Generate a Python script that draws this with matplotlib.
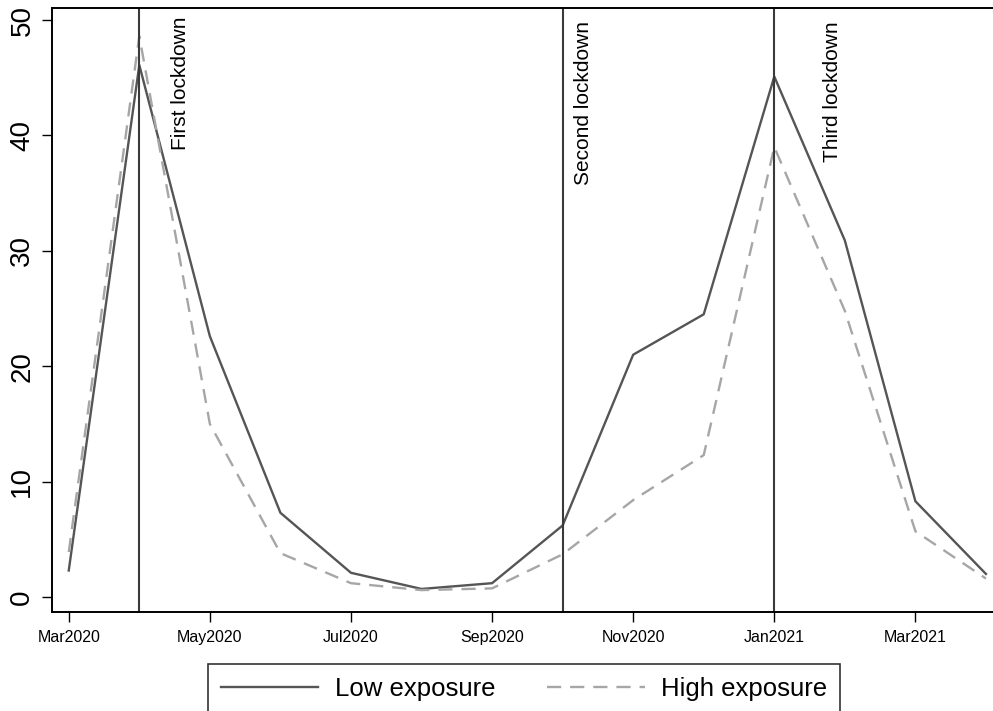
import numpy as np
import matplotlib.pyplot as plt

plt.rcParams['font.family'] = ['Liberation Sans', 'DejaVu Sans']

# monthly series, Mar2020 - Apr2021
months = ["Mar2020", "Apr2020", "May2020", "Jun2020", "Jul2020", "Aug2020", "Sep2020",
          "Oct2020", "Nov2020", "Dec2020", "Jan2021", "Feb2021", "Mar2021", "Apr2021"]
low_exposure = [2.3, 46.1, 22.6, 7.3, 2.1, 0.7, 1.2, 6.2, 21.0, 24.5, 45.1, 30.9, 8.3, 2.0]
high_exposure = [3.9, 48.6, 15.0, 3.8, 1.2, 0.6, 0.75, 3.7, 8.4, 12.3, 39.0, 24.8, 5.7, 1.6]

# lockdown markers (month label, text, text x offset in months, text top)
lockdowns = [("Apr2020", "First lockdown", 0.58, 50.3),
             ("Oct2020", "Second lockdown", 0.30, 49.9),
             ("Jan2021", "Third lockdown", 0.83, 49.9)]

x = np.arange(len(months))

fig = plt.figure(figsize=(9.93, 7.11), dpi=100)
ax = fig.add_axes([0.0524, 0.1392, 0.9476, 0.8495])

ax.plot(x, low_exposure, color='#555555', lw=1.7, label='Low exposure')
ax.plot(x, high_exposure, color='#a6a6a6', lw=1.7, dashes=(6, 3.8), label='High exposure')

for m, txt, off, top in lockdowns:
    i = months.index(m)
    ax.axvline(i, color='#3a3a3a', lw=1.5)
    ax.text(i + off, top, txt, rotation=90, ha='center', va='top', fontsize=15)

ax.set_xlim(-0.237, 13.1)
ax.set_ylim(-1.3, 51.04)
ax.set_yticks([0, 10, 20, 30, 40, 50])
ax.set_xticks(x[::2])
ax.set_xticklabels(months[::2], fontsize=11.5)
ax.tick_params(axis='y', labelsize=20, labelrotation=90, length=7, width=1, pad=5)
ax.tick_params(axis='x', length=7, width=1, pad=6)
for lab in ax.get_yticklabels():
    lab.set_va('center')

ax.spines['right'].set_visible(False)
for s in ['left', 'top', 'bottom']:
    ax.spines[s].set_linewidth(1.4)

leg = fig.legend(loc='upper center', bbox_to_anchor=(524 / 993, 1 - 664 / 711),
                 ncol=2, fontsize=18.5, frameon=True, fancybox=False,
                 edgecolor='black', handlelength=3.8, handletextpad=0.65,
                 columnspacing=2.0, borderpad=0.5, borderaxespad=0)
leg.get_frame().set_linewidth(1.2)

fig.savefig('out.png', dpi=100)
